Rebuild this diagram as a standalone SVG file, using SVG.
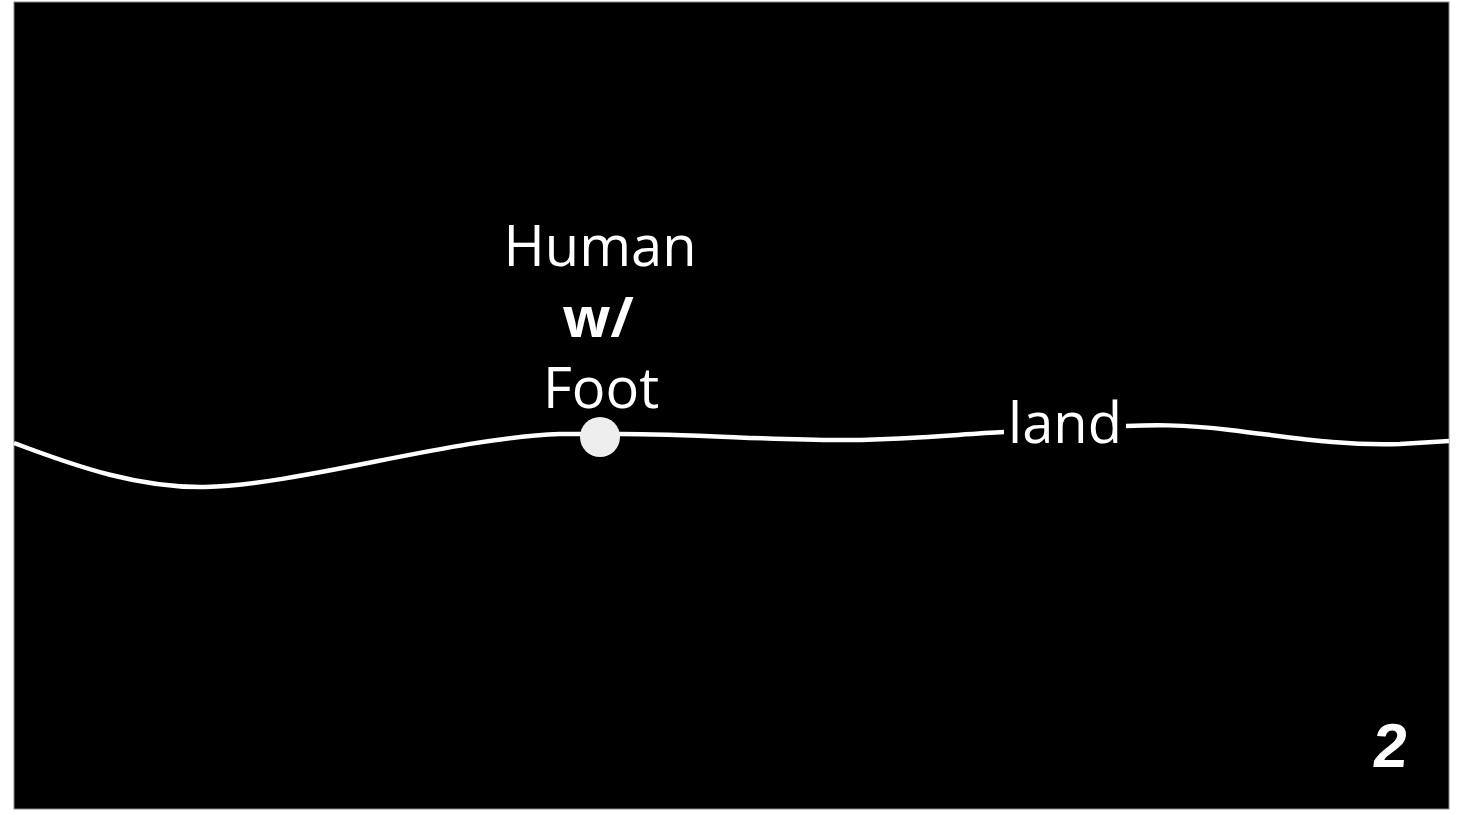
<svg xmlns="http://www.w3.org/2000/svg" width="1472" height="815" viewBox="0 0 1472 815">
<style>
.t{font-family:"Open Sans","Noto Sans",sans-serif;fill:#fff;font-size:56px;text-anchor:middle}
.b{font-weight:bold}
.line{fill:none;stroke:#fff;stroke-width:4.5}
</style>
<rect x="0" y="0" width="1472" height="815" fill="#fff"/>
<rect x="14" y="2" width="1435" height="807" fill="#000" stroke="#888" stroke-width="1"/>
<g id="connectors">
<path class="line" d="M14,443 C80,468 140,488 205,487 C300,485 450,438 560,434 L620,434 C700,434 780,441 850,440 C920,439 960,434 1004,432"/>
<path class="line" d="M1126,426 C1150,425 1180,424 1230,430 C1290,437 1340,446 1400,444 L1449,441"/>
</g>
<g id="human">
<text class="t" x="600" y="266">Human</text>
<text class="t b" x="598" y="337">w/</text>
<text class="t" x="601" y="408">Foot</text>
<circle cx="600" cy="437" r="20" fill="#eee"/>
</g>
<g id="land">
<text class="t" x="1065" y="443">land</text>
</g>
<g id="page">
<text x="1389" y="767" font-family="Liberation Sans,sans-serif" font-weight="bold" font-size="62" fill="#fff" text-anchor="middle" transform="skewX(-6) translate(80,0)">2</text>
</g>
</svg>
